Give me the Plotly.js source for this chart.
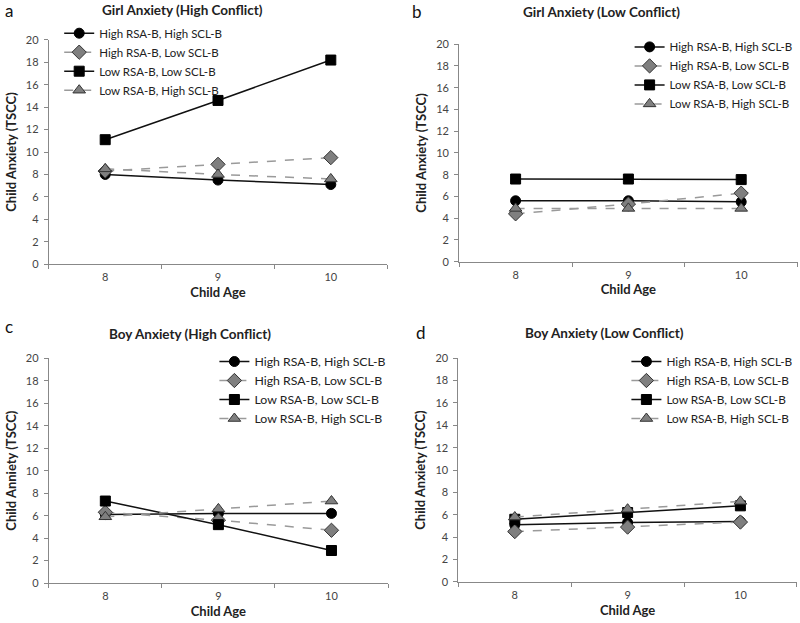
<!DOCTYPE html>
<html>
<head>
<meta charset="utf-8">
<script src="https://cdn.plot.ly/plotly-3.0.1.min.js"></script>
<style>html,body{margin:0;padding:0;background:#fff;}#chart{width:800px;height:623px;}</style>
</head>
<body>
<div id="chart"></div>
<script>
// Categories
const ages = ['8', '9', '10'];
const seriesNames = ['High RSA-B, High SCL-B', 'High RSA-B, Low SCL-B', 'Low RSA-B, Low SCL-B', 'Low RSA-B, High SCL-B'];
const panelTitles = ['Girl Anxiety (High Conflict)', 'Girl Anxiety (Low Conflict)', 'Boy Anxiety (High Conflict)', 'Boy Anxiety (Low Conflict)'];
const panelLetters = ['a', 'b', 'c', 'd'];
const yTitles = ['Child Anxiety (TSCC)', 'Child Anxiety (TSCC)', 'Child Anniety (TSCC)', 'Child Anxiety (TSCC)'];
const xTitle = 'Child Age';
const yTicks = [0, 2, 4, 6, 8, 10, 12, 14, 16, 18, 20];

// Panel a: Girl, High Conflict
const aHighHigh = [8.0, 7.5, 7.1];
const aHighLow = [8.3, 8.9, 9.5];
const aLowLow = [11.1, 14.6, 18.2];
const aLowHigh = [8.5, 8.0, 7.6];
// Panel b: Girl, Low Conflict
const bHighHigh = [5.6, 5.6, 5.5];
const bHighLow = [4.4, 5.3, 6.3];
const bLowLow = [7.6, 7.6, 7.55];
const bLowHigh = [4.9, 4.9, 4.9];
// Panel c: Boy, High Conflict
const cHighHigh = [6.1, 6.2, 6.2];
const cHighLow = [6.3, 5.6, 4.7];
const cLowLow = [7.3, 5.2, 2.9];
const cLowHigh = [5.9, 6.6, 7.3];
// Panel d: Boy, Low Conflict
const dHighHigh = [5.1, 5.3, 5.4];
const dHighLow = [4.5, 4.9, 5.35];
const dLowLow = [5.6, 6.2, 6.8];
const dLowHigh = [5.8, 6.5, 7.2];

const panelData = [
  [aHighHigh, aHighLow, aLowLow, aLowHigh],
  [bHighHigh, bHighLow, bLowLow, bLowHigh],
  [cHighHigh, cHighLow, cLowLow, cLowHigh],
  [dHighHigh, dHighLow, dLowLow, dLowHigh]
];

const FONT = 'Lato, "Open Sans", sans-serif';
const styles = [
  {line: {color: '#111', width: 1.5, dash: 'solid'}, marker: {symbol: 'circle', size: 10, color: '#000', line: {color: '#000', width: 1}}},
  {line: {color: '#9a9a9a', width: 1.5, dash: 'dash'}, marker: {symbol: 'diamond', size: 11, color: '#7f7f7f', line: {color: '#333', width: 1}}},
  {line: {color: '#111', width: 1.5, dash: 'solid'}, marker: {symbol: 'square', size: 10, color: '#000', line: {color: '#000', width: 1}}},
  {line: {color: '#9a9a9a', width: 1.5, dash: 'dash'}, marker: {symbol: 'triangle-up', size: 11, color: '#7f7f7f', line: {color: '#333', width: 1}}}
];

// Layout geometry (paper fractions)
const xDomains = [[0.061, 0.484], [0.574, 0.997], [0.061, 0.485], [0.573, 0.996]];
const yDomains = [[0.576, 0.936], [0.580, 0.929], [0.064, 0.425], [0.066, 0.425]];
const legendPos = [[0.074, 0.970], [0.787, 0.948], [0.268, 0.443], [0.783, 0.443]];
const legendFont = [11.5, 11.5, 12.3, 11.8];
const titlePos = [[0.228, 0.984], [0.752, 0.981], [0.238, 0.464], [0.755, 0.465]];
const letterPos = [[0.004, 0.983], [0.512, 0.981], [0.004, 0.476], [0.518, 0.467]];

const traces = [];
const layout = {
  width: 800, height: 623,
  margin: {l: 0, r: 0, t: 0, b: 0, autoexpand: false},
  paper_bgcolor: '#fff', plot_bgcolor: '#fff',
  font: {family: FONT, color: '#222'},
  showlegend: true,
  annotations: []
};

for (let p = 0; p < 4; p++) {
  const sx = p === 0 ? '' : String(p + 1);
  const legendKey = p === 0 ? 'legend' : 'legend' + (p + 1);
  for (let s = 0; s < 4; s++) {
    traces.push({
      type: 'scatter', mode: 'lines+markers',
      x: ages, y: panelData[p][s], name: seriesNames[s],
      xaxis: 'x' + sx, yaxis: 'y' + sx,
      legend: legendKey,
      line: styles[s].line, marker: styles[s].marker,
      hoverinfo: 'x+y+name'
    });
  }
  layout['xaxis' + sx] = {
    domain: xDomains[p], anchor: 'y' + sx,
    type: 'category', categoryorder: 'array', categoryarray: ages,
    range: [-0.5, 2.5], tickson: 'boundaries', ticks: 'outside', ticklen: 4, tickcolor: '#888',
    ticklabelstandoff: 3, automargin: false,
    showline: true, linecolor: '#888', linewidth: 1, showgrid: false, zeroline: false,
    tickfont: {family: FONT, size: 11, color: '#444'},
    title: {text: xTitle, font: {family: FONT, size: 13, color: '#222', weight: 'bold'}, standoff: 5}
  };
  layout['yaxis' + sx] = {
    domain: yDomains[p], anchor: 'x' + sx,
    range: [0, 20], tickvals: yTicks, ticks: 'outside', ticklen: 4, tickcolor: '#888',
    ticklabelstandoff: 3, automargin: false,
    showline: true, linecolor: '#888', linewidth: 1, showgrid: false, zeroline: false,
    tickfont: {family: FONT, size: 11, color: '#444'},
    title: {text: yTitles[p], font: {family: FONT, size: 13, color: '#222', weight: 'bold'}, standoff: 6}
  };
  layout[legendKey] = {
    x: legendPos[p][0], y: legendPos[p][1], xanchor: 'left', yanchor: 'top',
    bgcolor: 'rgba(0,0,0,0)', font: {family: FONT, size: legendFont[p], color: '#222'},
    tracegroupgap: 0, itemwidth: 30
  };
  layout.annotations.push({
    text: '<b>' + panelTitles[p] + '</b>', xref: 'paper', yref: 'paper',
    x: titlePos[p][0], y: titlePos[p][1], xanchor: 'center', yanchor: 'middle',
    showarrow: false, font: {family: FONT, size: 13.5, color: '#222'}
  });
  layout.annotations.push({
    text: panelLetters[p], xref: 'paper', yref: 'paper',
    x: letterPos[p][0], y: letterPos[p][1], xanchor: 'left', yanchor: 'middle',
    showarrow: false, font: {family: FONT, size: 17, color: '#111'}
  });
}

Plotly.newPlot('chart', traces, layout, {displayModeBar: false, staticPlot: true});
</script>
</body>
</html>
